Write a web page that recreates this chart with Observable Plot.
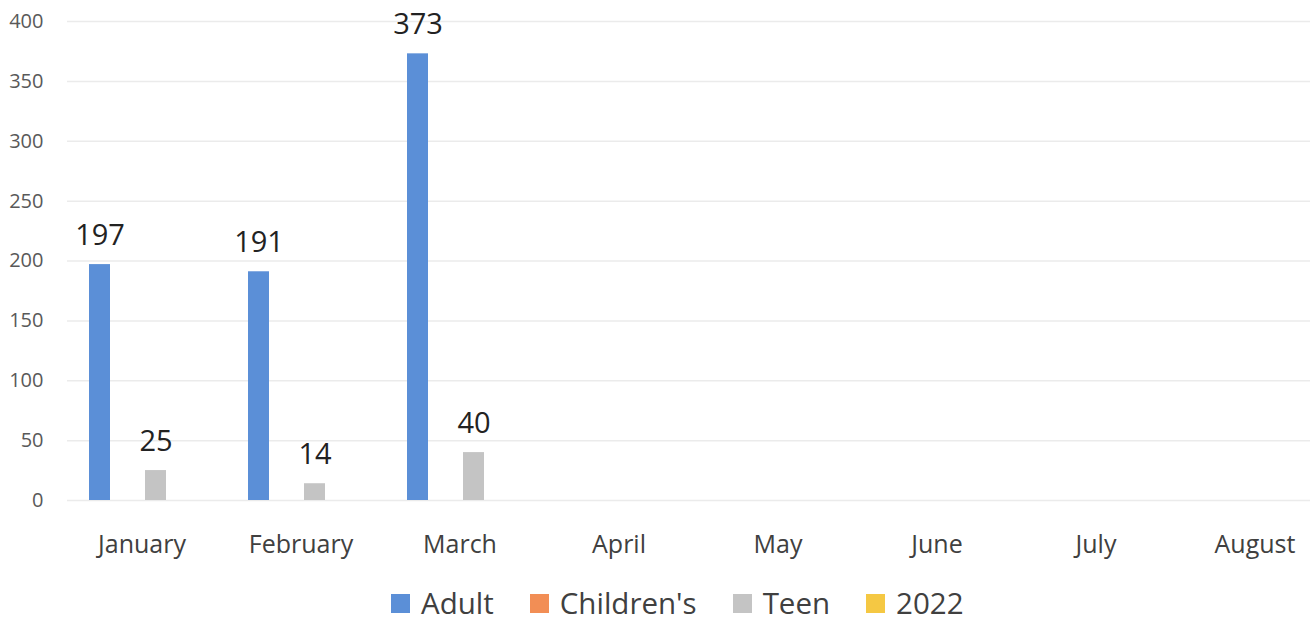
<!DOCTYPE html>
<html>
<head>
<meta charset="utf-8">
<script src="https://cdn.jsdelivr.net/npm/d3@7"></script>
<script src="https://cdn.jsdelivr.net/npm/@observablehq/plot@0.6"></script>
<style>
  html, body { margin: 0; padding: 0; background: #ffffff; }
  #chart { position: relative; width: 1310px; height: 622px; overflow: hidden; }
  #legend { position: absolute; left: 391px; top: 588px; }
  .lg-swatches { font-family: "Open Sans", sans-serif !important; font-size: 29.5px !important; line-height: 30px !important; color: #404040 !important; min-height: 30px !important; margin: 0 !important; }
  .lg-swatch { margin-right: 36px !important; }
  .lg-swatch svg { margin-right: 11px !important; }
</style>
</head>
<body>
<div id="chart"><div id="legend"></div></div>
<script>
const months = ["January", "February", "March", "April", "May", "June", "July", "August"];
const seriesNames = ["Adult", "Children's", "Teen", "2022"];
const adultValues = [197, 191, 373, null, null, null, null, null];
const childrensValues = [null, null, null, null, null, null, null, null];
const teenValues = [25, 14, 40, null, null, null, null, null];
const values2022 = [null, null, null, null, null, null, null, null];
const yTicks = [0, 50, 100, 150, 200, 250, 300, 350, 400];
const seriesColors = ["#5b8fd7", "#f28e55", "#c4c4c4", "#f5c843"];

const seriesValues = [adultValues, childrensValues, teenValues, values2022];
const rows = [];
months.forEach((m, i) => {
  seriesNames.forEach((s, j) => {
    rows.push({month: m, series: s, value: seriesValues[j][i]});
  });
});

const chart = Plot.plot({
  width: 1310,
  height: 575,
  marginLeft: 81,
  marginRight: -5.5,
  marginTop: 21,
  marginBottom: 75,
  style: {fontFamily: "'Open Sans', sans-serif", background: "#ffffff", overflow: "visible"},
  fx: {domain: months, padding: 0.236, label: null},
  x: {domain: seriesNames, padding: 0.233, axis: null},
  y: {domain: [0, 400], label: null},
  color: {domain: seriesNames, range: seriesColors},
  marks: [
    Plot.ruleY(yTicks, {y: d => d, stroke: "#ebebeb", strokeWidth: 1.5, insetLeft: -14, insetRight: -24}),
    Plot.axisY(yTicks, {tickSize: 0, tickPadding: 38, fontSize: 20, fill: "#595959", label: null}),
    Plot.axisFx({anchor: "bottom", tickSize: 0, tickPadding: 35, fontSize: 25, fill: "#404040", label: null}),
    Plot.barY(rows, {fx: "month", x: "series", y: "value", fill: "series"}),
    Plot.text(rows, {fx: "month", x: "series", y: "value", text: d => d.value == null ? null : String(d.value), lineAnchor: "bottom", dy: -20, fontSize: 29, fill: "#222222"})
  ]
});
document.getElementById("chart").prepend(chart);

const legend = Plot.legend({
  color: {domain: seriesNames, range: seriesColors},
  legend: "swatches",
  swatchSize: 19,
  className: "lg"
});
document.getElementById("legend").appendChild(legend);
</script>
</body>
</html>
